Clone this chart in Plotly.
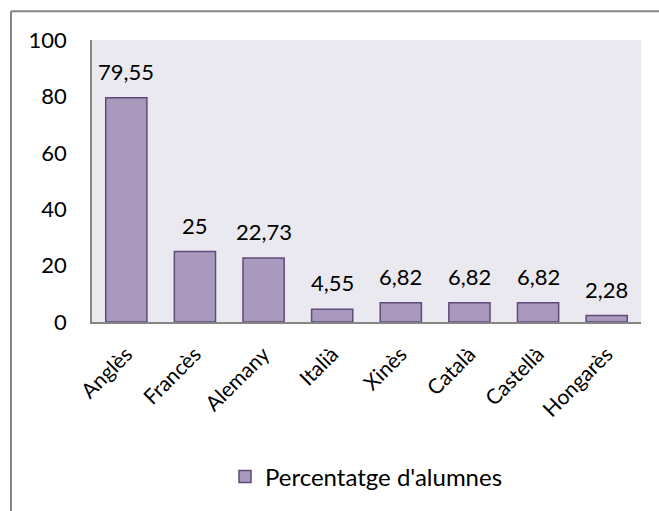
import plotly.graph_objects as go

idiomes = ["Anglès", "Francès", "Alemany", "Italià", "Xinès", "Català", "Castellà", "Hongarès"]
percentatges = [79.55, 25, 22.73, 4.55, 6.82, 6.82, 6.82, 2.28]
etiquetes = ["79,55", "25", "22,73", "4,55", "6,82", "6,82", "6,82", "2,28"]
y_ticks = [0, 20, 40, 60, 80, 100]

FONT = "Lato, 'Open Sans', sans-serif"
W, H = 659, 511
L, R, T, B = 92, 18, 40, 187
pw, ph = W - L - R, H - T - B

fig = go.Figure()
fig.add_trace(go.Bar(
    x=idiomes,
    y=percentatges,
    name="Percentatge d'alumnes",
    marker=dict(color="#a99abd", line=dict(color="#604a7b", width=1.5)),
    showlegend=True,
))

for cat, val, txt in zip(idiomes, percentatges, etiquetes):
    fig.add_annotation(x=cat, y=val, text=txt, showarrow=False,
                       yanchor="bottom", yshift=11,
                       font=dict(family=FONT, size=22, color="#000"))

# outer chart frame (extends past the right and bottom edges)
fig.add_shape(type="line", xref="paper", yref="paper",
              x0=(11 - L) / pw, x1=(W + 20 - L) / pw,
              y0=(ph + T - 11) / ph, y1=(ph + T - 11) / ph,
              line=dict(color="#868686", width=2))
fig.add_shape(type="line", xref="paper", yref="paper",
              x0=(11 - L) / pw, x1=(11 - L) / pw,
              y0=(ph + T - 11) / ph, y1=-(B + 20) / ph,
              line=dict(color="#868686", width=2))

fig.update_layout(
    width=W, height=H,
    margin=dict(l=L, r=R, t=T, b=B),
    paper_bgcolor="white",
    plot_bgcolor="#ebe9f0",
    bargap=0.4,
    font=dict(family=FONT, size=22, color="#000"),
    legend=dict(orientation="h", x=0.5, xanchor="center",
                y=-156 / ph, yanchor="middle",
                font=dict(family=FONT, size=24)),
    xaxis=dict(showline=True, linecolor="#868686", linewidth=1.5,
               tickangle=-45, ticks="", showgrid=False,
               ticklabelstandoff=10,
               tickfont=dict(family=FONT, size=21)),
    yaxis=dict(range=[0, 100], tickvals=y_ticks, showline=True,
               linecolor="#868686", linewidth=1.5, ticks="",
               showgrid=False, zeroline=False, ticklabelstandoff=19,
               tickfont=dict(family=FONT, size=22)),
)

fig.write_html("out.html")
